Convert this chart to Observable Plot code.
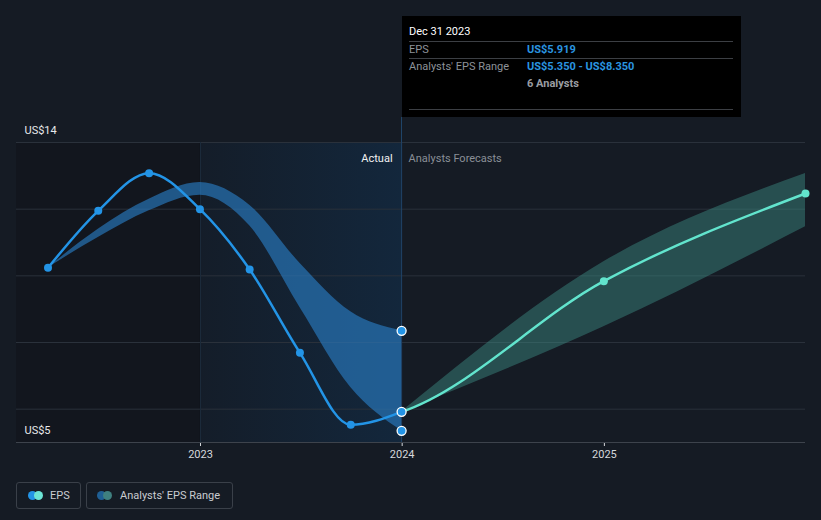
<!DOCTYPE html>
<html><head><meta charset="utf-8">
<script src="https://cdn.jsdelivr.net/npm/d3@7"></script>
<script src="https://cdn.jsdelivr.net/npm/@observablehq/plot@0.6"></script>
<style>
html,body{margin:0;padding:0;background:#151b24;}
body{width:821px;height:520px;overflow:hidden;font-family:Roboto,"Noto Sans",sans-serif;}
#wrap{position:relative;width:821px;height:520px;}
#chart{position:absolute;left:0;top:0;}
#tip{position:absolute;left:402px;top:16px;width:339px;height:101px;background:#000;color:#8d9299;font-size:11px;}
#tip .t{position:absolute;white-space:nowrap;line-height:13px;}
#tip .hr{position:absolute;left:7px;width:324px;height:1px;background:#3c3f44;}
#conn{position:absolute;left:401px;top:117px;width:1px;height:25px;background:#1f4468;}
.leg{position:absolute;top:482px;height:27px;box-sizing:border-box;border:1px solid #3a4049;border-radius:3px;color:#c9ccd1;font-size:11px;line-height:25px;}
.leg i{position:absolute;top:8px;width:9px;height:9px;border-radius:50%;}
.leg span{position:absolute;white-space:nowrap;}
</style></head><body>
<div id="wrap">
<div id="chart"></div>
<div id="conn"></div>
<div id="tip">
  <div class="t" style="left:7px;top:9px;color:#ffffff;">Dec 31 2023</div>
  <div class="hr" style="top:25px;"></div>
  <div class="t" style="left:7px;top:27px;">EPS</div>
  <div class="t" style="left:125px;top:27px;color:#2a95e0;font-weight:bold;" id="tipEps"></div>
  <div class="hr" style="top:42px;"></div>
  <div class="t" style="left:7px;top:44px;">Analysts' EPS Range</div>
  <div class="t" style="left:125px;top:44px;color:#2a95e0;font-weight:bold;" id="tipRange"></div>
  <div class="t" style="left:125px;top:61px;color:#9a9da2;font-weight:bold;" id="tipAnalysts"></div>
  <div class="hr" style="top:93px;"></div>
</div>
<div class="leg" style="left:16px;width:65px;">
  <i style="left:11px;background:#2394e6;"></i><i style="left:17px;background:#6ce5d5;"></i>
  <span style="left:33px;">EPS</span>
</div>
<div class="leg" style="left:86px;width:147px;">
  <i style="left:10px;background:#1f5f94;"></i><i style="left:16px;background:#3f8080;"></i>
  <span style="left:33px;">Analysts' EPS Range</span>
</div>
</div>
<script>
// ---- data ----
const actualDates = ["2022-03-31","2022-06-30","2022-09-30","2022-12-31","2023-03-31","2023-06-30","2023-09-30","2023-12-31"];
const actualEps   = [10.24, 11.95, 13.08, 12.0, 10.19, 7.69, 5.53, 5.919];
const rangeLow    = [10.24, 11.15, 11.95, 12.42, 11.5, 9.05, 6.65, 5.35];
const rangeHigh   = [10.24, 11.4, 12.3, 12.8, 12.12, 10.38, 8.92, 8.35];
const forecastDates = ["2023-12-31","2024-12-31","2025-12-31"];
const forecastEps   = [5.919, 9.84, 12.47];
const forecastLow   = [5.919, 8.47, 11.47];
const forecastHigh  = [5.919, 10.42, 13.07];
const yLabelValues = [5, 14];
const gridValues = [6, 8, 10, 12, 14];
const xTickDates = ["2023-01-01","2024-01-01","2025-01-01"];
const analystsCount = 6;

const parse = d3.utcParse("%Y-%m-%d");
const actual = actualDates.map((d,i)=>({date:parse(d), eps:actualEps[i], low:rangeLow[i], high:rangeHigh[i]}));
const forecast = forecastDates.map((d,i)=>({date:parse(d), eps:forecastEps[i], low:forecastLow[i], high:forecastHigh[i]}));
const last = actual[actual.length-1];
const tealSeries = [actual[actual.length-2], ...forecast];
const endPoints = [{date:last.date, v:last.low},{date:last.date, v:last.high},{date:last.date, v:last.eps}];

const fmt = d3.format(".3f");
document.getElementById("tipEps").textContent = `US$${fmt(last.eps)}`;
document.getElementById("tipRange").textContent = `US$${fmt(last.low)} - US$${fmt(last.high)}`;
document.getElementById("tipAnalysts").textContent = `${analystsCount} Analysts`;

const W=821, H=470, mL=16, mR=16, mT=142, mB=28;
const xDomain = [parse("2022-02-02"), parse("2025-12-31")];
const blue="#2394e6", teal="#62e4cd";

const chart = Plot.plot({
  width:W, height:H, marginLeft:mL, marginRight:mR, marginTop:mT, marginBottom:mB,
  style:{background:"transparent", color:"#d5d8dc", fontFamily:"Roboto, sans-serif", fontSize:"11px", overflow:"visible"},
  x:{type:"utc", domain:xDomain, ticks:xTickDates.map(parse), tickFormat:d3.utcFormat("%Y"), tickSize:4, tickPadding:4, label:null},
  y:{domain:[5,14], axis:null},
  marks:[
    Plot.rectX([{a:xDomain[0], b:parse("2023-01-01")}], {x1:"a", x2:"b", fill:"#12161e"}),
    Plot.rectX([{a:parse("2023-01-01"), b:last.date}], {x1:"a", x2:"b", fill:"url(#actualGrad)"}),
    Plot.ruleY(gridValues, {stroke:"#2a313b"}),
    Plot.ruleY([5], {stroke:"#3d434c"}),
    Plot.ruleX([parse("2023-01-01")], {stroke:"#1c2b3b"}),
    Plot.ruleX([last.date], {stroke:"#1f4468"}),
    Plot.areaY(actual, {x:"date", y1:"low", y2:"high", fill:"#2a80c8", fillOpacity:0.62, curve:"monotone-x"}),
    Plot.areaY(forecast, {x:"date", y1:"low", y2:"high", fill:"#3f9088", fillOpacity:0.45, curve:"monotone-x"}),
    Plot.lineY(tealSeries, {x:"date", y:"eps", stroke:teal, strokeWidth:2.5, curve:"monotone-x"}),
    Plot.lineY(actual, {x:"date", y:"eps", stroke:blue, strokeWidth:2.5, curve:"monotone-x"}),
    Plot.dot(actual.slice(0,-1), {x:"date", y:"eps", r:4, fill:blue}),
    Plot.dot(forecast.slice(1), {x:"date", y:"eps", r:4, fill:teal}),
    Plot.dot(endPoints, {x:"date", y:"v", r:4.5, fill:blue, stroke:"#ffffff", strokeWidth:1.3}),
    Plot.text(yLabelValues, {y:d=>d, text:d=>`US$${d}`, frameAnchor:"left", dx:8, dy:-12, textAnchor:"start", fill:"#e8e9eb"}),
    Plot.text([last.date], {x:d=>d, frameAnchor:"top", dy:12, dx:-9, textAnchor:"end", text:()=>"Actual", fill:"#f2f2f2"}),
    Plot.text([last.date], {x:d=>d, frameAnchor:"top", dy:12, dx:7, textAnchor:"start", text:()=>"Analysts Forecasts", fill:"#8a8f97"})
  ]
});
document.getElementById("chart").appendChild(chart);

// gradient + clip for forecast line
const xs = d3.scaleUtc(xDomain, [mL, W-mR]);
const svg = d3.select(chart);
const defs = svg.insert("defs", ":first-child");
const g = defs.append("linearGradient").attr("id","actualGrad").attr("x1",0).attr("x2",1).attr("y1",0).attr("y2",0);
g.append("stop").attr("offset",0).attr("stop-color","#141d29");
g.append("stop").attr("offset",1).attr("stop-color","#13273c");
defs.append("clipPath").attr("id","fcClip").append("rect")
  .attr("x", xs(last.date)).attr("y", 0).attr("width", W).attr("height", H);
const lines = chart.querySelectorAll('g[aria-label="line"]');
if (lines.length) lines[0].setAttribute("clip-path","url(#fcClip)");
</script>
</body></html>
